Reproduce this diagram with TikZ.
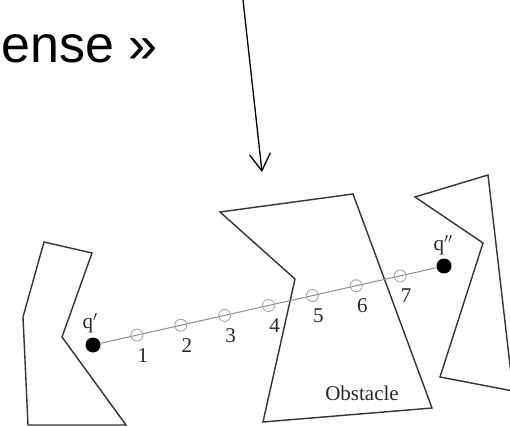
\documentclass[tikz,border=0pt]{standalone}
\usepackage{fontspec}
\setmainfont{Liberation Serif}
\newfontfamily\headfont{Liberation Sans}
\usetikzlibrary{arrows.meta, positioning, calc}
\tikzset{
  obstacle/.style={draw=black!80, line width=1.4pt, line join=miter},
  config/.style={circle, fill=black, minimum size=15pt, inner sep=0pt},
  sample/.style={circle, draw=black!35, minimum size=12pt, inner sep=0pt, line width=0.9pt},
  numlabel/.style={font=\fontsize{21}{21}\selectfont, text=black!85, inner sep=0pt},
  segment/.style={draw=black!45, line width=1pt},
  pointer/.style={-{Straight Barb[length=17pt, width=21pt]}, line width=1.3pt}
}

\begin{document}
\begin{tikzpicture}[x=1pt, y=-1pt]
  \clip (0,0) rectangle (510,427);

  % Heading and pointer
  \node[anchor=base west, inner sep=0pt, font=\headfont\fontsize{52}{52}\selectfont] (head) at (1,63) {ense »};
  \coordinate (top) at (243,0);
  \coordinate (tip) at (262,172);
  \draw[pointer] (top) -- (tip);

  % Obstacles
  \draw[obstacle] (44,242) -- (92,253) -- (62,337) -- (126,425) -- (28,425) -- (23,317) -- cycle;
  \draw[obstacle] (220,212) -- (353,194) -- (432,408) -- (263,422) -- (295,279) -- cycle;
  \draw[obstacle] (415,197) -- (488,175) -- (513,391) -- (440,377) -- (483,243) -- cycle;
  \node[numlabel] (obs) at (362,393) {Obstacle};

  % Straight path q' -- q''
  \node[config] (qa) at (93,345) {};
  \node[config] (qb) at (444,266) {};
  \node[numlabel] (qalabel) at (90,323) {q$'$};
  \node[numlabel] (qblabel) at (443,245) {q$''$};
  \draw[segment] (qa) -- (qb);

  % Samples along the path
  \foreach \i in {1,...,7}{
    \node[sample] (s\i) at ($(qa)!\i/8!(qb)$) {};
    \node[numlabel] (n\i) at ($(s\i)+(6,20)$) {\i};
  }
\end{tikzpicture}
\end{document}
